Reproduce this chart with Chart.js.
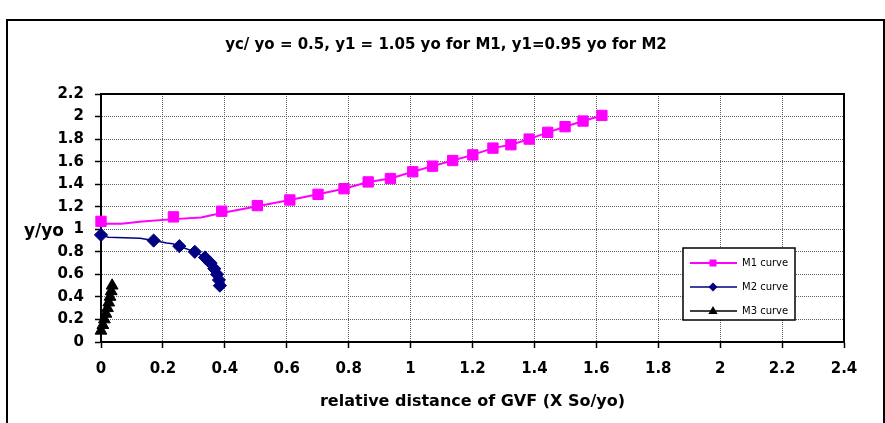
<!DOCTYPE html>
<html>
<head>
<meta charset="utf-8">
<script src="https://cdn.jsdelivr.net/npm/chart.js@4/dist/chart.umd.min.js"></script>
<style>
  html, body { margin: 0; padding: 0; background: #fff; }
  #wrap { width: 885px; height: 423px; position: relative; }
</style>
</head>
<body>
<div id="wrap"><canvas id="c" width="885" height="423"></canvas></div>
<script>
// Texts
const chartTitle = 'yc/ yo = 0.5, y1 = 1.05 yo for M1, y1=0.95 yo for M2';
const xAxisTitle = 'relative distance of GVF (X So/yo)';
const yAxisTitle = 'y/yo';
const seriesNames = ['M1 curve', 'M2 curve', 'M3 curve'];

// Tick labels
const xTickLabels = ['0', '0.2', '0.4', '0.6', '0.8', '1', '1.2', '1.4', '1.6', '1.8', '2', '2.2', '2.4'];
const yTickLabels = ['0', '0.2', '0.4', '0.6', '0.8', '1', '1.2', '1.4', '1.6', '1.8', '2', '2.2'];

// M1 profile: computed stations (markers)
const m1X = [0, 0.234, 0.390, 0.505, 0.610, 0.701, 0.785, 0.863, 0.935, 1.007, 1.071, 1.136, 1.201, 1.266, 1.324, 1.383, 1.443, 1.499, 1.557, 1.618];
const m1Y = [1.07, 1.11, 1.16, 1.21, 1.26, 1.31, 1.36, 1.42, 1.45, 1.51, 1.56, 1.61, 1.66, 1.72, 1.75, 1.80, 1.86, 1.91, 1.96, 2.01];
// M1 profile: continuous curve
const m1LineX = [0, 0.066, 0.133, 0.234, 0.323, 0.390, 0.505, 0.610, 0.701, 0.785, 0.863, 0.935, 1.007, 1.071, 1.136, 1.201, 1.266, 1.324, 1.383, 1.443, 1.499, 1.557, 1.618];
const m1LineY = [1.05, 1.05, 1.068, 1.09, 1.105, 1.145, 1.205, 1.26, 1.31, 1.36, 1.42, 1.45, 1.51, 1.56, 1.61, 1.66, 1.72, 1.75, 1.80, 1.86, 1.91, 1.96, 2.01];

// M2 profile: computed stations (markers)
const m2X = [0, 0.170, 0.253, 0.303, 0.336, 0.354, 0.366, 0.375, 0.381, 0.384];
const m2Y = [0.95, 0.90, 0.85, 0.80, 0.75, 0.70, 0.65, 0.60, 0.55, 0.50];
// M2 profile: continuous curve
const m2LineX = [0, 0.024, 0.126, 0.170, 0.212, 0.232, 0.253, 0.303, 0.336, 0.354, 0.366, 0.375, 0.381, 0.384];
const m2LineY = [0.95, 0.93, 0.92, 0.90, 0.878, 0.872, 0.85, 0.80, 0.75, 0.70, 0.65, 0.60, 0.55, 0.50];

// M3 profile
const m3X = [0, 0.006, 0.011, 0.016, 0.021, 0.025, 0.029, 0.033, 0.036];
const m3Y = [0.10, 0.15, 0.20, 0.25, 0.30, 0.35, 0.40, 0.45, 0.50];

const M1_COLOR = '#ff00ff';
const M2_COLOR = '#000080';
const M3_COLOR = '#000000';

function pts(xs, ys) { return xs.map((x, i) => ({ x: x, y: ys[i] })); }

// Small marker shapes for the legend
function drawMarker(ctx, shape, x, y, color) {
  ctx.save();
  ctx.fillStyle = color;
  ctx.beginPath();
  if (shape === 'rect') {
    ctx.rect(x - 3.5, y - 3.5, 7, 7);
  } else if (shape === 'rectRot') {
    ctx.moveTo(x - 4.5, y); ctx.lineTo(x, y - 4.5); ctx.lineTo(x + 4.5, y); ctx.lineTo(x, y + 4.5);
  } else {
    ctx.moveTo(x, y - 5); ctx.lineTo(x + 4.6, y + 3); ctx.lineTo(x - 4.6, y + 3);
  }
  ctx.closePath();
  ctx.fill();
  ctx.restore();
}

const decorations = {
  id: 'decorations',
  beforeDraw(chart) {
    const { ctx, width, height } = chart;
    ctx.save();
    ctx.fillStyle = '#fff';
    ctx.fillRect(0, 0, width, height);
    ctx.lineWidth = 2;
    ctx.strokeStyle = '#000';
    ctx.strokeRect(7, 20, 877, 430);
    ctx.fillStyle = '#000';
    ctx.font = "bold 15px 'DejaVu Sans', sans-serif";
    ctx.textAlign = 'center';
    ctx.textBaseline = 'middle';
    ctx.fillText(chartTitle, 446, 45);
    ctx.restore();
  },
  beforeDatasetsDraw(chart) {
    const { ctx, chartArea: a } = chart;
    ctx.save();
    ctx.lineWidth = 2;
    ctx.strokeStyle = '#000';
    ctx.strokeRect(a.left, a.top, a.right - a.left, a.bottom - a.top);
    // vertical axis caption, written level with the 1.0 tick
    const yPix = chart.scales.y.getPixelForValue(1);
    ctx.fillStyle = '#000';
    ctx.font = "bold 17px 'DejaVu Sans', sans-serif";
    ctx.textAlign = 'left';
    ctx.textBaseline = 'middle';
    ctx.fillText(yAxisTitle, 24, yPix + 2);
    ctx.restore();
  },
  afterDatasetsDraw(chart) {
    const { ctx } = chart;
    const box = { x: 683, y: 248, w: 112, h: 72 };
    ctx.save();
    ctx.fillStyle = '#fff';
    ctx.fillRect(box.x, box.y, box.w, box.h);
    ctx.lineWidth = 1.5;
    ctx.strokeStyle = '#000';
    ctx.strokeRect(box.x, box.y, box.w, box.h);
    const entries = [
      { color: M1_COLOR, shape: 'rect', width: 2 },
      { color: M2_COLOR, shape: 'rectRot', width: 1.5 },
      { color: M3_COLOR, shape: 'triangle', width: 1.5 }
    ];
    ctx.font = "10px 'DejaVu Sans', sans-serif";
    ctx.textAlign = 'left';
    ctx.textBaseline = 'middle';
    entries.forEach((e, i) => {
      const y = 263 + i * 24;
      ctx.strokeStyle = e.color;
      ctx.lineWidth = e.width;
      ctx.beginPath();
      ctx.moveTo(690, y);
      ctx.lineTo(737, y);
      ctx.stroke();
      drawMarker(ctx, e.shape, 713, y, e.color);
      ctx.fillStyle = '#000';
      ctx.fillText(seriesNames[i], 742, y + 0.5);
    });
    ctx.restore();
  }
};

const tickFont = { family: "'DejaVu Sans', sans-serif", weight: 'bold', size: 15 };
const gridOpts = {
  color: '#5e5e5e',
  lineWidth: 1,
  tickColor: '#000',
  tickLength: 6,
  tickWidth: 1.5,
  tickBorderDash: []
};
const borderOpts = { display: true, color: '#000', width: 2, dash: [1, 1] };

new Chart(document.getElementById('c'), {
  type: 'scatter',
  data: {
    datasets: [
      {
        label: seriesNames[0], data: pts(m1X, m1Y), showLine: false,
        pointStyle: 'rect', pointRadius: 7.3, borderWidth: 1,
        backgroundColor: M1_COLOR, borderColor: M1_COLOR, clip: false, order: 1
      },
      {
        label: seriesNames[1], data: pts(m2X, m2Y), showLine: false,
        pointStyle: 'rectRot', pointRadius: 6.6, borderWidth: 1,
        backgroundColor: M2_COLOR, borderColor: M2_COLOR, clip: false, order: 2
      },
      {
        label: seriesNames[2], data: pts(m3X, m3Y), showLine: true,
        pointStyle: 'triangle', pointRadius: 6.8, borderWidth: 1,
        backgroundColor: M3_COLOR, borderColor: M3_COLOR, clip: false, order: 3
      },
      {
        label: seriesNames[0], data: pts(m1LineX, m1LineY), showLine: true,
        pointRadius: 0, borderWidth: 2, borderColor: M1_COLOR, clip: false, order: 4
      },
      {
        label: seriesNames[1], data: pts(m2LineX, m2LineY), showLine: true,
        pointRadius: 0, borderWidth: 1.5, borderColor: M2_COLOR, clip: false, order: 5
      }
    ]
  },
  options: {
    responsive: false,
    animation: false,
    devicePixelRatio: 1,
    events: [],
    layout: { padding: { left: 0, top: 94, right: 41, bottom: 0 } },
    plugins: {
      legend: { display: false },
      title: { display: false },
      tooltip: { enabled: false }
    },
    scales: {
      x: {
        type: 'linear', min: 0, max: 2.4,
        ticks: {
          stepSize: 0.2, color: '#000', font: tickFont, padding: 12,
          maxRotation: 0, autoSkip: false,
          callback: (v, i) => xTickLabels[i]
        },
        grid: gridOpts,
        border: borderOpts,
        title: {
          display: true, text: xAxisTitle, color: '#000',
          font: { family: "'DejaVu Sans', sans-serif", weight: 'bold', size: 16 },
          padding: { top: 0, bottom: 12 }
        },
        afterFit(scale) { scale.height = 81; }
      },
      y: {
        type: 'linear', min: 0, max: 2.2,
        ticks: {
          stepSize: 0.2, color: '#000', font: tickFont, padding: 11,
          autoSkip: false,
          callback: (v, i) => yTickLabels[i]
        },
        grid: gridOpts,
        border: borderOpts,
        afterFit(scale) { scale.width = 101; }
      }
    }
  },
  plugins: [decorations]
});
</script>
</body>
</html>
